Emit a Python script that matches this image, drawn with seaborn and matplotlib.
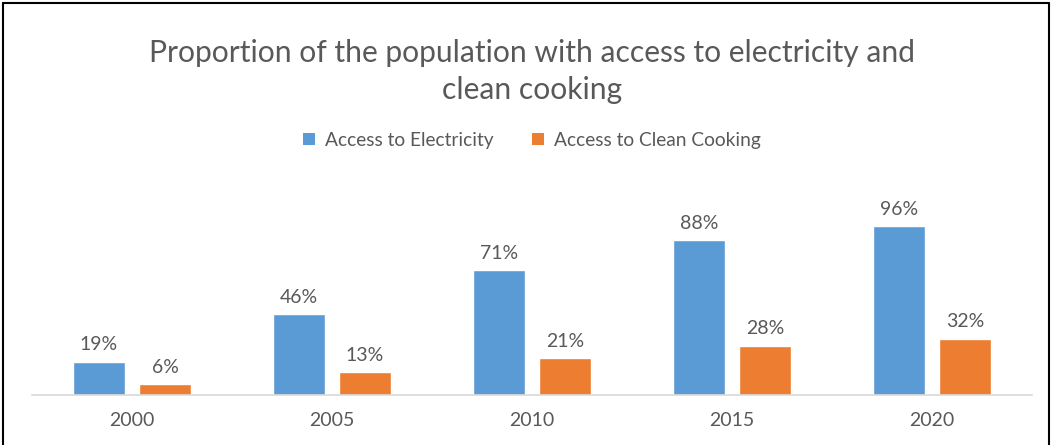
import pandas as pd
import numpy as np
import matplotlib
matplotlib.use("Agg")
import matplotlib.pyplot as plt
import seaborn as sns
from matplotlib.patches import Patch
from matplotlib.lines import Line2D

years = ["2000", "2005", "2010", "2015", "2020"]
electricity = [19, 46, 71, 88, 96]
clean_cooking = [6, 13, 21, 28, 32]
series_names = ["Access to Electricity", "Access to Clean Cooking"]
colors = ["#5B9BD5", "#ED7D31"]
text_color = "#595959"

df = pd.DataFrame({
    "year": years * 2,
    "value": electricity + clean_cooking,
    "series": [series_names[0]] * len(years) + [series_names[1]] * len(years),
})

sns.set_theme(style="white")
plt.rcParams["font.family"] = ["Lato", "DejaVu Sans"]

fig = plt.figure(figsize=(10.53, 4.45), dpi=100)
ax = fig.add_axes([32 / 1053, 50 / 445, 1000 / 1053, 209 / 445])

sns.barplot(data=df, x="year", y="value", hue="series", palette=colors,
            width=0.66, gap=0.21, ax=ax, legend=False, saturation=1)

for cont in ax.containers:
    ax.bar_label(cont, fmt="%d%%", padding=6, fontsize=14, color=text_color)

ax.set_ylim(0, 119)
ax.set_xlim(-0.5, len(years) - 0.5)
ax.set_xlabel("")
ax.set_ylabel("")
ax.set_yticks([])
for s in ["top", "right", "left"]:
    ax.spines[s].set_visible(False)
ax.spines["bottom"].set_color("#D9D9D9")
ax.spines["bottom"].set_linewidth(1.2)
ax.tick_params(axis="x", length=0, pad=12, labelsize=14, labelcolor=text_color)

fig.text(0.505, 0.84, "Proportion of the population with access to electricity and\nclean cooking",
         ha="center", va="center", fontsize=21.6, color=text_color, linespacing=1.4)

handles = [Patch(facecolor=c, edgecolor="none") for c in colors]
fig.legend(handles, series_names, loc="center", bbox_to_anchor=(0.505, 0.685), ncol=2,
           frameon=False, fontsize=13.8, labelcolor=text_color, handlelength=0.65,
           handleheight=0.65, handletextpad=0.5, columnspacing=2.0)

# chart border
fig.add_artist(Line2D([3 / 1053, 3 / 1053], [0, 1 - 3 / 445], transform=fig.transFigure, color="black", lw=1.5))
fig.add_artist(Line2D([3 / 1053, 1049 / 1053], [1 - 3 / 445, 1 - 3 / 445], transform=fig.transFigure, color="black", lw=1.5))
fig.add_artist(Line2D([1049 / 1053, 1049 / 1053], [0, 1 - 3 / 445], transform=fig.transFigure, color="black", lw=1.5))

fig.savefig("out.png", dpi=100)
